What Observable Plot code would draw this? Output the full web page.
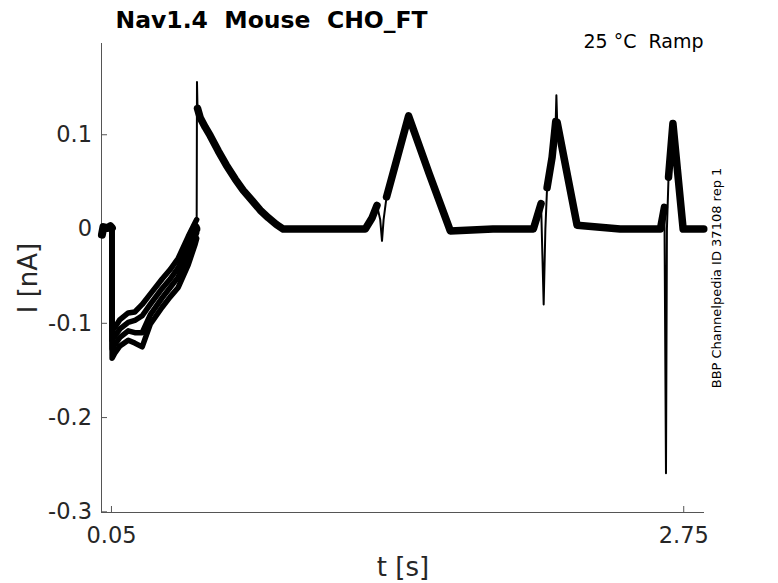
<!DOCTYPE html>
<html><head><meta charset="utf-8">
<script src="https://cdn.jsdelivr.net/npm/d3@7"></script>
<script src="https://cdn.jsdelivr.net/npm/@observablehq/plot@0.6"></script>
<style>html,body{margin:0;padding:0;background:#fff;} svg text{white-space:pre;}</style>
</head><body><div id="chart"></div>
<script>
// ---- text ----
const titleText = "Nav1.4  Mouse  CHO_FT";
const conditionText = "25 \u00B0C  Ramp";
const sideText = "BBP Channelpedia ID 37108 rep 1";
const xLabel = "t [s]";
const yLabel = "I [nA]";

// ---- ticks ----
const xTicks = [0.05, 2.75];
const xTickLabels = ["0.05", "2.75"];
const yTicks = [0.1, 0, -0.1, -0.2, -0.3];
const yTickLabels = ["0.1", "0", "-0.1", "-0.2", "-0.3"];
const xDomain = [0.003, 2.848];
const yDomain = [-0.3007, 0.1968];

// ---- holding baseline before the step (s, nA) ----
const preT = [0.005, 0.012, 0.030, 0.045, 0.052];
const preI = [-0.006, 0.002, 0.001, 0.003, 0.001];

// ---- ramp phase, four repetitions ----
const rampT = [0.052, 0.053, 0.0675, 0.09, 0.129, 0.16, 0.195, 0.233, 0.289, 0.327, 0.365, 0.412, 0.445, 0.452];
const rep1 = [0.000, -0.108, -0.104, -0.096, -0.089, -0.088, -0.080, -0.069, -0.053, -0.043, -0.031, -0.008, 0.007, 0.010];
const rep2 = [0.000, -0.118, -0.113, -0.106, -0.099, -0.097, -0.092, -0.080, -0.063, -0.053, -0.041, -0.018, -0.001, 0.003];
const rep3 = [0.000, -0.127, -0.122, -0.115, -0.108, -0.110, -0.110, -0.091, -0.073, -0.062, -0.051, -0.027, -0.008, -0.004];
const rep4 = [0.000, -0.137, -0.131, -0.124, -0.118, -0.121, -0.125, -0.101, -0.083, -0.072, -0.062, -0.038, -0.016, -0.010];

// ---- rest of the sweep (s, nA) ----
const mainT = [0.452, 0.4535, 0.456, 0.4687, 0.4923, 0.5159, 0.5536, 0.5914, 0.6339, 0.6717, 0.7142, 0.7519, 0.7897, 0.8274, 0.8605,
  1.05, 1.2476, 1.28, 1.3028, 1.318, 1.3264, 1.334, 1.3479, 1.40, 1.4519, 1.55, 1.6488,
  1.85, 2.0406, 2.0769, 2.0892, 2.0972, 2.1053, 2.1289, 2.146, 2.1492, 2.153, 2.2469,
  2.45, 2.64, 2.6589, 2.6663, 2.6707, 2.6783, 2.699, 2.7472, 2.8445];
const mainI = [0.000, 0.156, 0.128, 0.118, 0.108, 0.099, 0.083, 0.068, 0.053, 0.041, 0.030, 0.020, 0.012, 0.005, 0.000,
  0.000, 0.000, 0.012, 0.025, 0.010, -0.0125, 0.010, 0.034, 0.077, 0.120, 0.058, -0.002,
  0.000, 0.000, 0.027, -0.080, 0.000, 0.044, 0.076, 0.114, 0.142, 0.113, 0.004,
  0.000, 0.000, 0.023, -0.259, 0.000, 0.055, 0.112, 0.000, 0.000];
// time windows of fast transients (drawn as thin strokes)
const fastWindows = [[0.452, 0.456], [1.3028, 1.3479], [2.0769, 2.1053], [2.146, 2.153], [2.6589, 2.6783]];

// ---- build tables ----
const preRows = preT.map((t, k) => ({t, i: preI[k]}));
const reps = {rep1, rep2, rep3, rep4};
const repRows = Object.entries(reps).flatMap(([name, vals]) => rampT.map((t, k) => ({t, i: vals[k], rep: name})));
const mainRows = mainT.map((t, k) => ({t, i: mainI[k]}));
const slowRows = mainRows
  .filter(d => !fastWindows.some(([a, b]) => d.t > a && d.t < b))
  .map(d => ({...d, seg: fastWindows.filter(([a, b]) => b <= d.t).length}));
const fastRows = fastWindows.flatMap(([a, b], w) => mainRows.filter(d => d.t >= a && d.t <= b).map(d => ({...d, seg: w})));

const W = 778, H = 583, mL = 101, mR = 74, mT = 43, mB = 71;
const pw = W - mL - mR, ph = H - mT - mB;
const axisColor = "#555";
const labelColor = "#262626";

const chart = Plot.plot({
  width: W, height: H,
  marginLeft: mL, marginRight: mR, marginTop: mT, marginBottom: mB,
  style: {fontFamily: "DejaVu Sans", background: "white", overflow: "visible"},
  x: {domain: xDomain, axis: null},
  y: {domain: yDomain, axis: null},
  marks: [
    Plot.ruleX([xDomain[0]], {stroke: axisColor, strokeWidth: 1}),
    Plot.ruleY([yDomain[0]], {stroke: axisColor, strokeWidth: 1}),
    Plot.tickY(yTicks, {y: d => d, stroke: axisColor, insetRight: pw - 6}),
    Plot.tickX(xTicks, {x: d => d, stroke: axisColor, insetTop: ph - 6}),
    Plot.text(yTicks, {y: d => d, frameAnchor: "left", dx: -9.5, textAnchor: "end", text: (d, k) => yTickLabels[k], fontSize: 22.5, fill: labelColor}),
    Plot.text(xTicks, {x: d => d, frameAnchor: "bottom", dy: 30, lineAnchor: "bottom", textAnchor: "middle", text: (d, k) => xTickLabels[k], fontSize: 22.5, fill: labelColor}),
    Plot.text([xLabel], {frameAnchor: "bottom", dy: 63, lineAnchor: "bottom", textAnchor: "middle", text: d => d, fontSize: 26, fill: labelColor}),
    Plot.text([yLabel], {frameAnchor: "left", dx: -73, rotate: -90, textAnchor: "middle", text: d => d, fontSize: 26, fill: labelColor}),
    Plot.line(preRows, {x: "t", y: "i", stroke: "black", strokeWidth: 8, strokeLinejoin: "round"}),
    Plot.line(repRows, {x: "t", y: "i", z: "rep", stroke: "black", strokeWidth: 5.5, strokeLinejoin: "round"}),
    Plot.line(slowRows, {x: "t", y: "i", z: "seg", stroke: "black", strokeWidth: 7.5, strokeLinejoin: "round"}),
    Plot.line(fastRows, {x: "t", y: "i", z: "seg", stroke: "black", strokeWidth: 2, strokeLinejoin: "round"}),
    Plot.text([titleText], {frameAnchor: "top-left", dx: 14, dy: -16, lineAnchor: "bottom", textAnchor: "start", text: d => d, fontSize: 23.5, fontWeight: "bold", fill: "black"}),
    Plot.text([conditionText], {frameAnchor: "top-right", dx: -1, dy: 4.7, lineAnchor: "bottom", textAnchor: "end", text: d => d, fontSize: 19, fill: "black"}),
    Plot.text([sideText], {frameAnchor: "right", dx: 12, rotate: -90, textAnchor: "middle", text: d => d, fontSize: 13, fill: "black"})
  ]
});
document.getElementById("chart").appendChild(chart);
</script></body></html>
